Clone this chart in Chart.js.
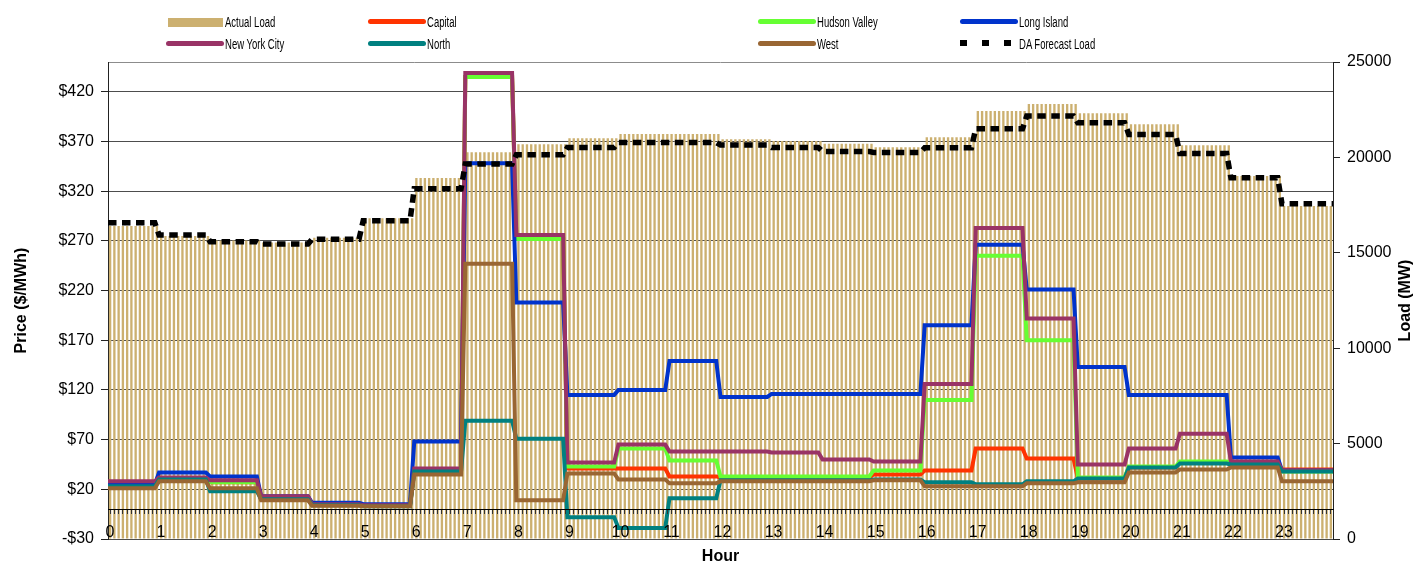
<!DOCTYPE html>
<html>
<head>
<meta charset="utf-8">
<script src="https://cdn.jsdelivr.net/npm/chart.js@4.4.1/dist/chart.umd.min.js"></script>
<style>
html,body{margin:0;padding:0;background:#fff;}
#wrap{position:relative;width:1421px;height:572px;overflow:hidden;}
#c{position:absolute;left:0;top:0;}
.lgt{position:absolute;font-family:"Liberation Sans",Arial,sans-serif;font-size:14px;line-height:16px;color:#000;white-space:nowrap;transform:scaleX(0.68);transform-origin:0 50%;}
.sw{position:absolute;}
</style>
</head>
<body>
<div id="wrap">
  <canvas id="c" width="1421" height="572"></canvas>
  <div id="legend"></div>
</div>
<script>
// ---------------- data ----------------
const hourLabels = ['0','1','2','3','4','5','6','7','8','9','10','11','12','13','14','15','16','17','18','19','20','21','22','23'];

// hourly Actual Load (MW), shown as 5-minute bars (12 per hour)
const actualLoad = [16405,15880,15640,15540,15790,16807,18920,20267,20686,21000,21226,21226,20950,20860,20720,20530,21053,22431,22798,22310,21734,20634,19025,17452];
// DA Forecast Load (MW)
const daForecastLoad = [16577,15933,15582,15461,15713,16682,18360,19650,20136,20519,20781,20781,20650,20519,20309,20256,20503,21498,22169,21818,21200,20204,18931,17568];

// zonal prices ($/MWh)
const capital      = [24,31,27,12,5,4,38,435,272,41,41,33,32,32,32,35,39,61,51,31,42,47,45,40];
const hudsonValley = [24,31,27,12,5,4,38,435,272,43,61,49,33,33,33,39,110,255,170,32,43,48,46,38];
const longIsland   = [25,37,33,13,6.5,5,68,348,208,115,120,149,113,116,116,116,185,266,221,143,115,115,52,39];
const newYorkCity  = [28,32,29,13,5,4,41,439,276,47,65,58,58,57,50,48,126,283,192,45,61,76,48,39];
const north        = [23,30,18,10,4,3,38,89,71,-8,-19,11,29,29,29,30,27,25,28,31,42,46,45,38];
const west         = [21,28,21,9,3.5,3,35,247,9,36,30,26,28,28,28,29,23,23,26,27,37,40,42,28];

const priceTicks = [-30,20,70,120,170,220,270,320,370,420];
const loadTicks  = [0,5000,10000,15000,20000,25000];

const seriesNames = ['Actual Load','Capital','Hudson Valley','Long Island','New York City','North','West','DA Forecast Load'];
const priceTitle = 'Price ($/MWh)';
const loadTitle = 'Load (MW)';
const hourTitle = 'Hour';

// ---------------- helpers (x in 5-minute intervals, 12 per hour) ----------------
const PER_HOUR = 12;
const X_MAX = hourLabels.length * PER_HOUR;
function stepPoints(vals){
  const pts = [];
  vals.forEach((v,h)=>{
    pts.push({x: h*PER_HOUR, y: v});
    pts.push({x: h === vals.length-1 ? X_MAX : h*PER_HOUR + PER_HOUR - 1, y: v});
  });
  return pts;
}
function barPoints(vals){
  const pts = [];
  vals.forEach((v,h)=>{ for(let k=0;k<PER_HOUR;k++) pts.push({x: h*PER_HOUR + k + 0.5, y: v}); });
  return pts;
}

const FONT = "'Liberation Sans', Arial, sans-serif";
Chart.defaults.font.family = FONT;
Chart.defaults.font.size = 16;
Chart.defaults.color = '#000';

const colors = {
  load:'#CCB070', capital:'#FF3300', hv:'#66FF33', li:'#0033CC', nyc:'#993366', north:'#008080', west:'#996633', da:'#000000'
};

function lineDs(label, vals, color, order){
  return {type:'line', label, data: stepPoints(vals), borderColor: color, backgroundColor: color,
    borderWidth: 4, pointRadius: 0, tension: 0, fill: false, xAxisID:'x', yAxisID:'y', order};
}

const datasets = [
  {type:'bar', label: seriesNames[0], data: barPoints(actualLoad), backgroundColor: colors.load, borderWidth: 0,
   barPercentage: 0.55, categoryPercentage: 1.0, xAxisID:'x', yAxisID:'y1', order: 7},
  lineDs(seriesNames[1], capital, colors.capital, 6),
  lineDs(seriesNames[2], hudsonValley, colors.hv, 5),
  lineDs(seriesNames[3], longIsland, colors.li, 4),
  lineDs(seriesNames[4], newYorkCity, colors.nyc, 3),
  lineDs(seriesNames[5], north, colors.north, 2),
  lineDs(seriesNames[6], west, colors.west, 1),
  {type:'line', label: seriesNames[7], data: stepPoints(daForecastLoad), borderColor: colors.da, backgroundColor: colors.da,
   borderWidth: 5.5, borderDash:[8.5,5.5], pointRadius: 0, tension: 0, fill:false, xAxisID:'x', yAxisID:'y1', order: 0}
];

const rightTitlePlugin = {
  id: 'rightTitle',
  afterDraw(chart){
    const {ctx, chartArea} = chart;
    ctx.save();
    ctx.font = "bold 16px " + FONT;
    ctx.fillStyle = '#000';
    ctx.textAlign = 'center';
    ctx.textBaseline = 'middle';
    ctx.translate(1406, (chartArea.top + chartArea.bottom)/2);
    ctx.rotate(-Math.PI/2);
    ctx.fillText(loadTitle, 0, 0);
    ctx.restore();
  }
};

new Chart(document.getElementById('c'), {
  type: 'line',
  data: { datasets },
  options: {
    responsive: false,
    animation: false,
    devicePixelRatio: 1,
    events: [],
    layout: { padding: { top: 62, left: 0, right: 0, bottom: 0 } },
    plugins: { legend: { display: false }, tooltip: { enabled: false } },
    scales: {
      x: {
        type: 'linear', position: { y: 0 }, min: 0, max: X_MAX, offset: false,
        grid: { display: true, drawOnChartArea: false, drawTicks: true, tickLength: 4, tickColor: '#333', z: 1 },
        border: { display: true, color: '#000', width: 1, z: 1 },
        ticks: { stepSize: 1, autoSkip: false, maxRotation: 0, minRotation: 0, padding: 10, labelOffset: 2, z: 1,
          callback: (v) => (v % PER_HOUR === 0 && v / PER_HOUR < hourLabels.length) ? hourLabels[v / PER_HOUR] : '' }
      },
      xt: {
        type: 'linear', position: 'bottom', min: 0, max: 1,
        grid: { display: false }, border: { display: false }, ticks: { display: false },
        title: { display: true, text: hourTitle, font: { weight: 'bold', size: 16 }, padding: { top: 0, bottom: 6 } },
        afterFit: (s) => { s.height = 33; }
      },
      y: {
        type: 'linear', position: 'left', min: -30, max: 450,
        afterBuildTicks: (s) => { s.ticks = priceTicks.map(v => ({ value: v })); },
        grid: { color: '#4d4d4d', tickColor: '#222', tickLength: 7 },
        border: { color: '#222' },
        ticks: { padding: 7, callback: (v) => v < 0 ? '-$' + (-v) : '$' + v },
        title: { display: true, text: priceTitle, font: { weight: 'bold', size: 16 }, padding: { top: 12, bottom: 0 } },
        afterFit: (s) => { s.width = 108; }
      },
      y1: {
        type: 'linear', position: 'right', min: 0, max: 25000,
        afterBuildTicks: (s) => { s.ticks = loadTicks.map(v => ({ value: v })); },
        grid: { color: (c) => (c.tick && c.tick.value === 25000) ? '#8c8c8c' : 'rgba(0,0,0,0)', tickColor: '#222', tickLength: 7 },
        border: { color: '#222' },
        ticks: { padding: 7, callback: (v) => String(v) },
        afterFit: (s) => { s.width = 88; }
      }
    }
  },
  plugins: [rightTitlePlugin]
});

// ---------------- legend (HTML, 4 columns x 2 rows) ----------------
const legendCols = [166, 368, 758, 960];
const legendRows = [22, 44];
const legendColors = [colors.load, colors.capital, colors.hv, colors.li, colors.nyc, colors.north, colors.west, colors.da];
const legend = document.getElementById('legend');
seriesNames.forEach((name, i) => {
  const cx = legendCols[i % 4], cy = legendRows[Math.floor(i / 4)];
  if (i === 0) {
    const d = document.createElement('div'); d.className = 'sw';
    Object.assign(d.style, { left: (cx + 2) + 'px', top: (cy - 4) + 'px', width: '55px', height: '9px', background: legendColors[i] });
    legend.appendChild(d);
  } else if (i === seriesNames.length - 1) {
    [0, 22, 44].forEach(off => {
      const d = document.createElement('div'); d.className = 'sw';
      Object.assign(d.style, { left: (cx + off) + 'px', top: (cy - 4) + 'px', width: '7px', height: '6px', background: legendColors[i] });
      legend.appendChild(d);
    });
  } else {
    const d = document.createElement('div'); d.className = 'sw';
    Object.assign(d.style, { left: cx + 'px', top: (cy - 3.5) + 'px', width: '58px', height: '5px', borderRadius: '2.5px', background: legendColors[i] });
    legend.appendChild(d);
  }
  const t = document.createElement('div'); t.className = 'lgt';
  t.textContent = name;
  Object.assign(t.style, { left: (cx + 59) + 'px', top: (cy - 8) + 'px' });
  legend.appendChild(t);
});
</script>
</body>
</html>
